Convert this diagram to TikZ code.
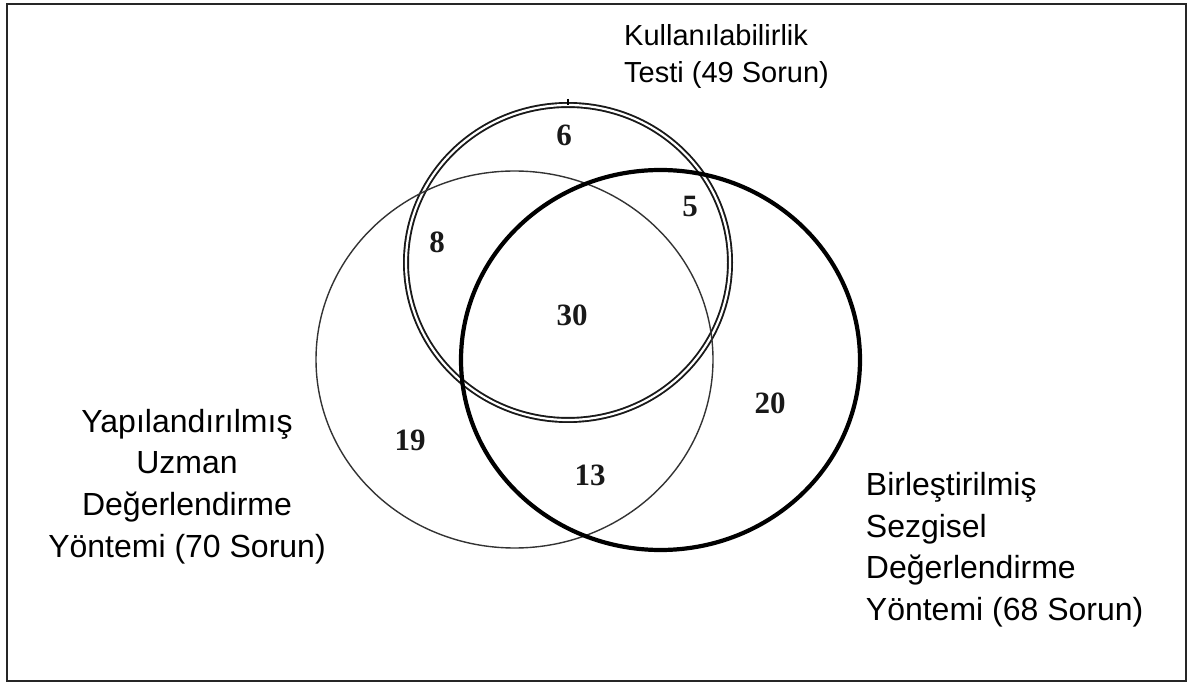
\documentclass[tikz,border=0pt]{standalone}
\usepackage{fontspec}
\setmainfont{Liberation Sans}
\newfontfamily\numfont{Liberation Serif}
\begin{document}
\begin{tikzpicture}[x=1pt,y=-1pt,
  setlabel/.style={inner sep=0pt, font=\fontsize{32}{41.7}\selectfont},
  toplabel/.style={inner sep=0pt, font=\fontsize{29}{37}\selectfont, align=left, anchor=north west},
  count/.style={inner sep=0pt, font=\numfont\bfseries\fontsize{31}{33}\selectfont, text=black!90},
  thinset/.style={draw=black!80, line width=1.4pt},
  thickset/.style={draw=black, line width=4.2pt},
  doubleset/.style={draw=black!90, double=white, line width=1.9pt, double distance=2.2pt}]
\useasboundingbox (0,0) rectangle (1189,684);
% frame
\draw[line width=2pt, draw=black!85] (7,3.7) rectangle (1185.5,680.5);

% the three sets
\draw[doubleset] (568,262.5) ellipse [x radius=162pt, y radius=157.5pt];
\draw[line width=2.5pt] (568,99) -- (568,105);
\draw[thinset] (514.5,359.5) ellipse [x radius=198.5pt, y radius=188.5pt];
\draw[thickset] (660.5,360) ellipse [x radius=199.5pt, y radius=190pt];

% region counts
\node[count] (c6)  at (564,135) {6};
\node[count] (c5)  at (690,207) {5};
\node[count] (c8)  at (437,242) {8};
\node[count] (c30) at (572,315) {30};
\node[count] (c20) at (770,403) {20};
\node[count] (c19) at (410,440) {19};
\node[count] (c13) at (590,475) {13};

% set names
\node[toplabel] (kt) at (624,24.2) {Kullanılabilirlik\\Testi (49 Sorun)};
\node[setlabel, align=center, anchor=north] (yu) at (187,408.8)
  {Yapılandırılmış\\Uzman\\Değerlendirme\\Yöntemi (70 Sorun)};
\node[setlabel, align=left, anchor=north west] (bs) at (865.7,472.1)
  {Birleştirilmiş\\Sezgisel\\Değerlendirme\\Yöntemi (68 Sorun)};
\end{tikzpicture}
\end{document}
